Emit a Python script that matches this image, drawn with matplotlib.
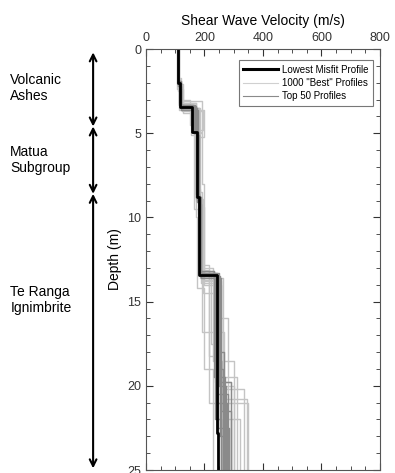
import numpy as np
import matplotlib.pyplot as plt
from matplotlib.ticker import MultipleLocator

plt.rcParams['font.family'] = ['Liberation Sans', 'DejaVu Sans']
plt.rcParams['xtick.direction'] = 'in'
plt.rcParams['ytick.direction'] = 'in'

# layer boundaries (m) and shear wave velocities (m/s)
best_depths = [
    [0, 1.8, 3.2, 4.7, 9.0, 13.2, 18.5, 25],
    [0, 2.2, 3.6, 5.2, 8.5, 13.8, 20.0, 25],
    [0, 2.0, 3.0, 4.5, 9.5, 12.8, 21.0, 25],
    [0, 2.4, 3.5, 5.0, 8.0, 13.5, 16.0, 25],
    [0, 1.9, 3.3, 4.8, 10.0, 14.2, 19.0, 25],
    [0, 2.1, 3.8, 5.5, 9.0, 13.0, 18.5, 25],
    [0, 2.3, 3.4, 4.6, 8.8, 13.6, 20.8, 25],
    [0, 1.7, 3.1, 4.9, 9.2, 14.5, 19.5, 25],
    [0, 2.0, 3.6, 5.1, 8.6, 13.3, 16.8, 25],
    [0, 2.2, 3.2, 4.4, 9.8, 13.9, 22.0, 25],
    [0, 1.8, 3.5, 5.3, 8.3, 13.1, 18.2, 25],
    [0, 2.5, 3.7, 4.8, 9.4, 14.0, 20.2, 25],
    [0, 2.1, 3.3, 4.6, 9.1, 13.4, 17.5, 25],
    [0, 1.9, 3.5, 5.0, 8.9, 13.7, 19.8, 25],
]
best_vs = [
    [108, 114, 170, 172, 185, 232, 260],
    [112, 120, 198, 180, 190, 255, 300],
    [110, 118, 150, 165, 178, 215, 350],
    [106, 125, 185, 190, 200, 250, 280],
    [110, 112, 160, 170, 175, 200, 230],
    [113, 128, 175, 176, 192, 228, 300],
    [109, 116, 165, 168, 184, 262, 345],
    [111, 119, 190, 186, 196, 245, 310],
    [107, 113, 155, 172, 182, 190, 265],
    [110, 121, 172, 178, 188, 238, 320],
    [112, 117, 180, 174, 186, 215, 255],
    [108, 124, 195, 182, 198, 258, 335],
    [110, 115, 168, 175, 190, 222, 245],
    [109, 119, 182, 179, 194, 236, 290],
]

top50_depths = [
    [0, 2.0, 3.4, 4.9, 8.8, 13.4, 19.0, 25],
    [0, 2.1, 3.5, 5.0, 9.0, 13.5, 20.0, 25],
    [0, 1.9, 3.3, 4.8, 8.6, 13.3, 18.5, 25],
    [0, 2.2, 3.6, 5.1, 9.2, 13.6, 21.5, 25],
    [0, 2.0, 3.3, 4.7, 8.9, 13.2, 19.5, 25],
    [0, 2.1, 3.5, 4.9, 9.1, 13.4, 22.5, 25],
    [0, 1.9, 3.4, 5.0, 8.7, 13.5, 20.5, 25],
    [0, 2.0, 3.5, 4.9, 8.8, 13.3, 18.0, 25],
    [0, 2.0, 3.4, 4.8, 9.0, 13.4, 21.0, 25],
    [0, 2.1, 3.4, 5.0, 8.8, 13.5, 23.0, 25],
    [0, 1.9, 3.5, 4.9, 8.9, 13.3, 19.8, 25],
    [0, 2.0, 3.3, 5.0, 9.1, 13.4, 22.0, 25],
]
top50_vs = [
    [109, 116, 165, 175, 182, 242, 262],
    [110, 118, 170, 178, 186, 250, 275],
    [108, 114, 160, 172, 180, 235, 255],
    [111, 120, 178, 180, 188, 255, 290],
    [109, 115, 168, 174, 184, 232, 270],
    [110, 117, 172, 177, 185, 245, 285],
    [108, 116, 162, 176, 183, 240, 280],
    [110, 118, 175, 176, 187, 248, 268],
    [109, 117, 166, 173, 183, 238, 278],
    [110, 116, 170, 175, 186, 252, 262],
    [108, 118, 174, 178, 181, 244, 292],
    [110, 115, 163, 174, 185, 236, 258],
]

best_fit_depths = [0, 2.0, 3.45, 4.9, 8.8, 13.4, 22.8, 25]
best_fit_vs = [109, 116, 158, 174, 181, 242, 247]

units = ["Volcanic\nAshes", "Matua\nSubgroup", "Te Ranga\nIgnimbrite"]
unit_tops = [0.2, 4.6, 8.6]
unit_bottoms = [4.6, 8.6, 24.9]
unit_label_y = [2.3, 6.6, 14.9]


def step_profile(d, v):
    d = np.asarray(d, dtype=float)
    v = np.asarray(v, dtype=float)
    yy = np.repeat(d, 2)[1:-1]
    xx = np.repeat(v, 2)
    return xx, yy


fig = plt.figure(figsize=(3.95, 4.73), dpi=100)
ax = fig.add_axes([0.3696, 0.0063, 0.5924, 0.8901])

for d, v in zip(best_depths, best_vs):
    xx, yy = step_profile(d, v)
    ax.plot(xx, yy, color='#c4c4c4', lw=1.0)
for d, v in zip(top50_depths, top50_vs):
    xx, yy = step_profile(d, v)
    ax.plot(xx, yy, color='#8a8a8a', lw=1.0)
xx, yy = step_profile(best_fit_depths, best_fit_vs)
ax.plot(xx, yy, color='black', lw=2.0)

# legend handles
h1, = ax.plot([], [], color='black', lw=2.2)
h2, = ax.plot([], [], color='#d0d0d0', lw=0.8)
h3, = ax.plot([], [], color='#8a8a8a', lw=0.8)
leg = ax.legend([h1, h2, h3],
                ['Lowest Misfit Profile', '1000 "Best" Profiles', 'Top 50 Profiles'],
                loc='upper right', fontsize=7, frameon=True, fancybox=False,
                edgecolor='#555555', handlelength=3.6, borderpad=0.45,
                labelspacing=0.35, handletextpad=0.4,
                bbox_to_anchor=(0.99, 0.985))
leg.get_frame().set_linewidth(0.8)

ax.set_xlim(0, 800)
ax.set_ylim(25, 0)
ax.xaxis.set_major_locator(MultipleLocator(200))
ax.xaxis.set_minor_locator(MultipleLocator(50))
ax.yaxis.set_major_locator(MultipleLocator(5))
ax.yaxis.set_minor_locator(MultipleLocator(1))
ax.tick_params(which='both', top=True, right=True, labeltop=True,
               labelbottom=False, colors='#333333', labelsize=9)
ax.tick_params(which='major', length=5)
ax.tick_params(which='minor', length=3)
for s in ax.spines.values():
    s.set_color('#555555')
ax.xaxis.set_label_position('top')
ax.set_xlabel('Shear Wave Velocity (m/s)', fontsize=10, labelpad=5)
ax.set_ylabel('Depth (m)', fontsize=10, labelpad=4)

for name, top, bot, ly in zip(units, unit_tops, unit_bottoms, unit_label_y):
    ax.annotate('', xy=(-0.226, top), xytext=(-0.226, bot),
                xycoords=('axes fraction', 'data'),
                textcoords=('axes fraction', 'data'),
                arrowprops=dict(arrowstyle='<->', lw=1.5, color='black',
                                mutation_scale=12, shrinkA=0, shrinkB=0),
                annotation_clip=False)
    ax.text(-0.58, ly, name, transform=ax.get_yaxis_transform(), fontsize=10,
            ha='left', va='center', clip_on=False)

fig.savefig('out.png', dpi=100)
